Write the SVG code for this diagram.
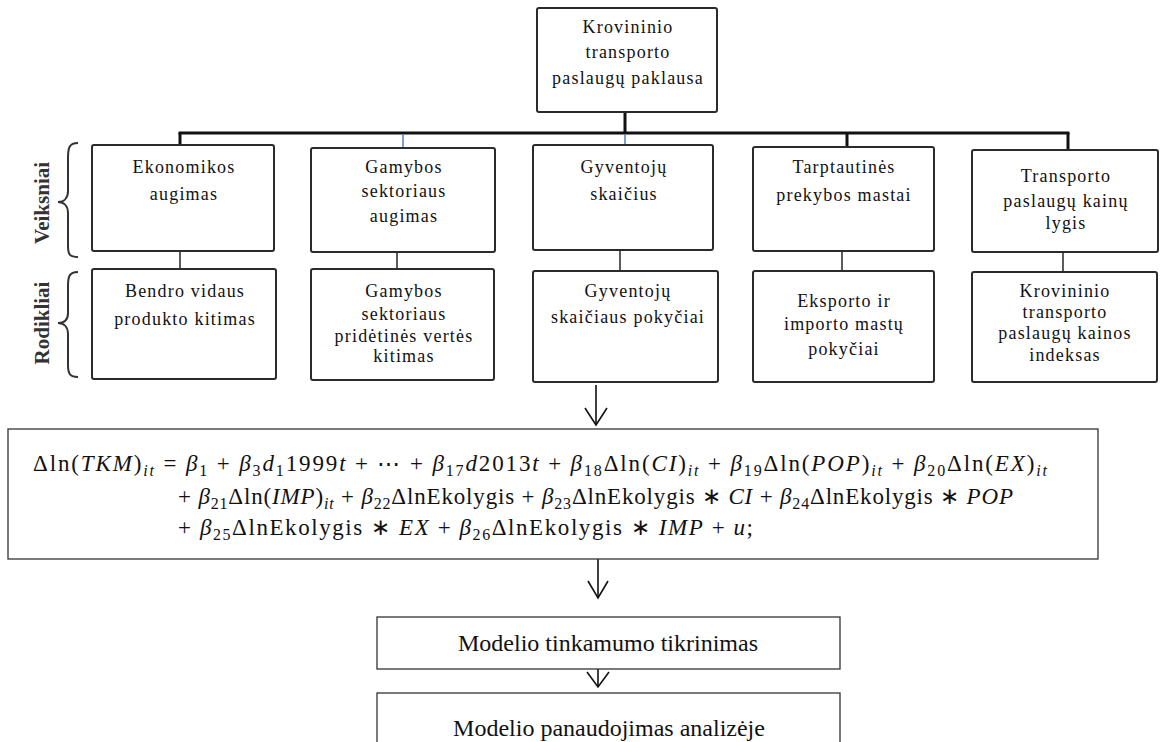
<svg xmlns="http://www.w3.org/2000/svg" width="1171" height="742" viewBox="0 0 1171 742">
<style>
.box{fill:#fff;stroke:#2b2b2b;stroke-width:2}
.tbox{fill:#fff;stroke:#333;stroke-width:1.3}
.t{font-family:"Liberation Serif",serif;font-size:18px;letter-spacing:1.2px;fill:#111;text-anchor:middle}
.lbl{font-family:"Liberation Serif",serif;font-size:21px;font-weight:bold;fill:#333;text-anchor:middle}
.f{font-family:"Liberation Serif",serif;font-size:23px;fill:#111}
.i{font-style:italic}
.sb{font-size:16px}
.m{font-family:"Liberation Serif",serif;font-size:24px;fill:#111;text-anchor:middle}
.bar{stroke:#111;stroke-width:3;fill:none}
.blue{stroke:#4f81bd;stroke-width:1.5;fill:none}
.thin{stroke:#333;stroke-width:1.6;fill:none}
.arr{stroke:#111;stroke-width:1.6;fill:none}
.brace{stroke:#333;stroke-width:2;fill:none}
</style>

<g id="connectors">
  <line class="bar" x1="625" y1="112" x2="625" y2="133"/>
  <line class="bar" x1="178.5" y1="133" x2="1069.5" y2="133"/>
  <line class="bar" x1="180" y1="133" x2="180" y2="145"/>
  <line class="blue" x1="403" y1="134" x2="403" y2="148"/>
  <line class="blue" x1="625" y1="134" x2="625" y2="145"/>
  <line class="bar" x1="847" y1="133" x2="847" y2="147"/>
  <line class="bar" x1="1068" y1="133" x2="1068" y2="150"/>
  <line class="thin" x1="180" y1="251" x2="180" y2="269"/>
  <line class="thin" x1="397" y1="252" x2="397" y2="269"/>
  <line class="thin" x1="620" y1="250" x2="620" y2="271"/>
  <line class="thin" x1="842" y1="251" x2="842" y2="271"/>
  <line class="thin" x1="1063" y1="252" x2="1063" y2="272"/>
  <line class="arr" x1="596" y1="385" x2="596" y2="425"/>
  <polyline class="arr" points="585,408 596,425 607,408"/>
  <line class="arr" x1="598" y1="559" x2="598" y2="598"/>
  <polyline class="arr" points="588,581 598,598 608,581"/>
  <line class="arr" x1="598" y1="669" x2="598" y2="687"/>
  <polyline class="arr" points="587,672 598,687 609,672"/>
</g>

<g id="braces">
  <path class="brace" d="M78,143 C69,143 68,148 68,158 L68,191 C68,198 64,202 58,202 C64,202 68,206 68,213 L68,246 C68,255 70,257 78,257"/>
  <text class="lbl" transform="translate(49,203) rotate(-90)">Veiksniai</text>
  <path class="brace" d="M78,272 C69,272 68,277 68,286 L68,313 C68,320 64,323 58,323 C64,323 68,327 68,334 L68,365 C68,374 70,377 78,377"/>
  <text class="lbl" transform="translate(49,323) rotate(-90)">Rodikliai</text>
</g>

<g id="n0">
  <rect class="box" x="537" y="8" width="180" height="104" rx="2"/>
  <text class="t" x="628" y="33">Krovininio</text>
  <text class="t" x="628" y="58">transporto</text>
  <text class="t" x="628" y="84">paslaugų paklausa</text>
</g>

<g id="n1">
  <rect class="box" x="92" y="145" width="182" height="106" rx="2"/>
  <text class="t" x="184" y="173">Ekonomikos</text>
  <text class="t" x="184" y="200">augimas</text>
</g>
<g id="n2">
  <rect class="box" x="311" y="148" width="184" height="104" rx="2"/>
  <text class="t" x="404" y="173">Gamybos</text>
  <text class="t" x="404" y="197">sektoriaus</text>
  <text class="t" x="404" y="222">augimas</text>
</g>
<g id="n3">
  <rect class="box" x="533" y="145" width="180" height="105" rx="2"/>
  <text class="t" x="624" y="173">Gyventojų</text>
  <text class="t" x="624" y="200">skaičius</text>
</g>
<g id="n4">
  <rect class="box" x="753" y="147" width="181" height="104" rx="2"/>
  <text class="t" x="844" y="173">Tarptautinės</text>
  <text class="t" x="844" y="201">prekybos mastai</text>
</g>
<g id="n5">
  <rect class="box" x="972" y="150" width="186" height="102" rx="2"/>
  <text class="t" x="1066" y="182">Transporto</text>
  <text class="t" x="1066" y="207">paslaugų kainų</text>
  <text class="t" x="1066" y="229">lygis</text>
</g>

<g id="r1">
  <rect class="box" x="92" y="269" width="184" height="110" rx="2"/>
  <text class="t" x="185" y="297">Bendro vidaus</text>
  <text class="t" x="185" y="325">produkto kitimas</text>
</g>
<g id="r2">
  <rect class="box" x="311" y="269" width="183" height="111" rx="2"/>
  <text class="t" x="404" y="297">Gamybos</text>
  <text class="t" x="404" y="320">sektoriaus</text>
  <text class="t" x="404" y="342">pridėtinės vertės</text>
  <text class="t" x="404" y="362">kitimas</text>
</g>
<g id="r3">
  <rect class="box" x="533" y="271" width="185" height="111" rx="2"/>
  <text class="t" x="628" y="297">Gyventojų</text>
  <text class="t" x="628" y="323">skaičiaus pokyčiai</text>
</g>
<g id="r4">
  <rect class="box" x="753" y="271" width="181" height="111" rx="2"/>
  <text class="t" x="844" y="307">Eksporto ir</text>
  <text class="t" x="844" y="330">importo mastų</text>
  <text class="t" x="844" y="355">pokyčiai</text>
</g>
<g id="r5">
  <rect class="box" x="972" y="272" width="185" height="110" rx="2"/>
  <text class="t" x="1065" y="297">Krovininio</text>
  <text class="t" x="1065" y="318">transporto</text>
  <text class="t" x="1065" y="339">paslaugų kainos</text>
  <text class="t" x="1065" y="361">indeksas</text>
</g>

<g id="formula">
  <rect class="tbox" x="8" y="429" width="1090" height="130"/>
  <text class="f" x="33" y="471" textLength="1014" lengthAdjust="spacing">Δln(<tspan class="i">TKM</tspan>)<tspan class="sb i" dy="5">it</tspan><tspan dy="-5"> = </tspan><tspan class="i">β</tspan><tspan class="sb" dy="5">1</tspan><tspan dy="-5"> + </tspan><tspan class="i">β</tspan><tspan class="sb" dy="5">3</tspan><tspan class="i" dy="-5">d</tspan><tspan class="sb" dy="5">1</tspan><tspan dy="-5">1999</tspan><tspan class="i">t</tspan> + ⋯ + <tspan class="i">β</tspan><tspan class="sb" dy="5">17</tspan><tspan class="i" dy="-5">d</tspan>2013<tspan class="i">t</tspan> + <tspan class="i">β</tspan><tspan class="sb" dy="5">18</tspan><tspan dy="-5">Δln(</tspan><tspan class="i">CI</tspan>)<tspan class="sb i" dy="5">it</tspan><tspan dy="-5"> + </tspan><tspan class="i">β</tspan><tspan class="sb" dy="5">19</tspan><tspan dy="-5">Δln(</tspan><tspan class="i">POP</tspan>)<tspan class="sb i" dy="5">it</tspan><tspan dy="-5"> + </tspan><tspan class="i">β</tspan><tspan class="sb" dy="5">20</tspan><tspan dy="-5">Δln(</tspan><tspan class="i">EX</tspan>)<tspan class="sb i" dy="5">it</tspan></text>
  <text class="f" x="178" y="504" textLength="835" lengthAdjust="spacing">+ <tspan class="i">β</tspan><tspan class="sb" dy="5">21</tspan><tspan dy="-5">Δln(</tspan><tspan class="i">IMP</tspan>)<tspan class="sb i" dy="5">it</tspan><tspan dy="-5"> + </tspan><tspan class="i">β</tspan><tspan class="sb" dy="5">22</tspan><tspan dy="-5">ΔlnEkolygis + </tspan><tspan class="i">β</tspan><tspan class="sb" dy="5">23</tspan><tspan dy="-5">ΔlnEkolygis ∗ </tspan><tspan class="i">CI</tspan> + <tspan class="i">β</tspan><tspan class="sb" dy="5">24</tspan><tspan dy="-5">ΔlnEkolygis ∗ </tspan><tspan class="i">POP</tspan></text>
  <text class="f" x="178" y="535" textLength="575" lengthAdjust="spacing">+ <tspan class="i">β</tspan><tspan class="sb" dy="5">25</tspan><tspan dy="-5">ΔlnEkolygis ∗ </tspan><tspan class="i">EX</tspan> + <tspan class="i">β</tspan><tspan class="sb" dy="5">26</tspan><tspan dy="-5">ΔlnEkolygis ∗ </tspan><tspan class="i">IMP</tspan> + <tspan class="i">u</tspan>;</text>
</g>

<g id="m1">
  <rect class="tbox" x="377" y="617" width="463" height="52"/>
  <text class="m" x="608" y="651">Modelio tinkamumo tikrinimas</text>
</g>
<g id="m2">
  <rect class="tbox" x="377" y="693" width="463" height="60"/>
  <text class="m" x="609" y="736">Modelio panaudojimas analizėje</text>
</g>
</svg>
